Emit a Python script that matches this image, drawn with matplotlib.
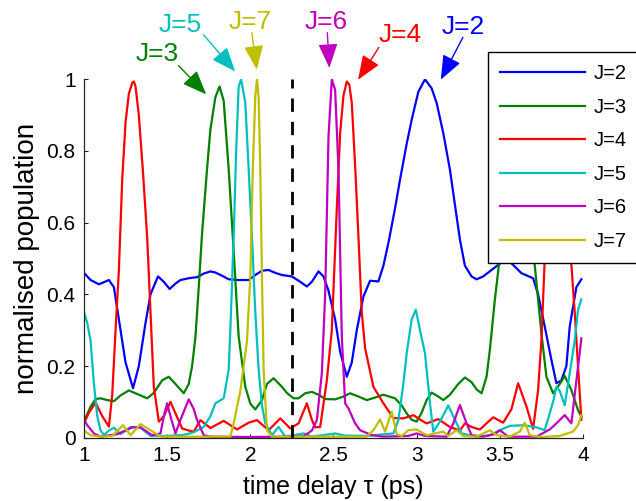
import matplotlib
matplotlib.use("Agg")
import matplotlib.pyplot as plt

plt.rcParams['font.family'] = ['Liberation Sans', 'DejaVu Sans']

labels = ["J=2", "J=3", "J=4", "J=5", "J=6", "J=7"]
colors = ["b", "g", "r", "c", "m", "y"]

j2_t = [1.00, 1.04, 1.09, 1.15, 1.18, 1.21, 1.25, 1.295, 1.33, 1.37, 1.40, 1.445, 1.48, 1.515, 1.55, 1.58, 1.63, 1.68, 1.72, 1.76, 1.79, 1.83, 1.87, 1.93, 1.99, 2.03, 2.07, 2.11, 2.15, 2.19, 2.25, 2.30, 2.34, 2.37, 2.41, 2.44, 2.47, 2.51, 2.54, 2.58, 2.61, 2.64, 2.68, 2.72, 2.77, 2.80, 2.83, 2.87, 2.90, 2.94, 2.97, 3.01, 3.05, 3.09, 3.12, 3.16, 3.20, 3.23, 3.26, 3.29, 3.33, 3.36, 3.40, 3.45, 3.49, 3.54, 3.58, 3.63, 3.70, 3.73, 3.77, 3.81, 3.84, 3.87, 3.90, 3.92, 3.96, 3.99]
j2_p = [0.46, 0.44, 0.428, 0.44, 0.42, 0.33, 0.21, 0.138, 0.2, 0.32, 0.40, 0.45, 0.435, 0.415, 0.43, 0.44, 0.445, 0.448, 0.458, 0.464, 0.461, 0.452, 0.442, 0.44, 0.44, 0.454, 0.466, 0.468, 0.46, 0.454, 0.45, 0.435, 0.422, 0.435, 0.464, 0.45, 0.41, 0.33, 0.24, 0.17, 0.21, 0.30, 0.394, 0.438, 0.436, 0.48, 0.543, 0.64, 0.72, 0.82, 0.887, 0.965, 1.0, 0.975, 0.934, 0.85, 0.748, 0.65, 0.553, 0.48, 0.45, 0.442, 0.45, 0.468, 0.482, 0.50, 0.482, 0.459, 0.445, 0.40, 0.31, 0.217, 0.152, 0.16, 0.20, 0.31, 0.42, 0.442]

j3_t = [1.00, 1.04, 1.07, 1.10, 1.14, 1.18, 1.22, 1.27, 1.32, 1.38, 1.42, 1.47, 1.51, 1.55, 1.60, 1.63, 1.65, 1.67, 1.69, 1.71, 1.74, 1.76, 1.79, 1.815, 1.84, 1.87, 1.90, 1.93, 1.97, 2.00, 2.03, 2.07, 2.10, 2.14, 2.19, 2.22, 2.26, 2.29, 2.33, 2.37, 2.41, 2.45, 2.51, 2.56, 2.60, 2.65, 2.70, 2.75, 2.80, 2.87, 2.91, 2.94, 2.97, 3.00, 3.03, 3.06, 3.09, 3.13, 3.16, 3.20, 3.25, 3.29, 3.33, 3.36, 3.39, 3.42, 3.44, 3.47, 3.50, 3.53, 3.56, 3.60, 3.64, 3.68, 3.71, 3.75, 3.78, 3.82, 3.86, 3.89, 3.93, 3.97, 3.99]
j3_p = [0.045, 0.087, 0.108, 0.11, 0.105, 0.102, 0.118, 0.132, 0.122, 0.11, 0.125, 0.16, 0.17, 0.15, 0.124, 0.15, 0.2, 0.28, 0.42, 0.57, 0.75, 0.86, 0.95, 0.98, 0.94, 0.75, 0.52, 0.282, 0.142, 0.095, 0.079, 0.105, 0.15, 0.166, 0.142, 0.125, 0.11, 0.11, 0.124, 0.128, 0.12, 0.108, 0.107, 0.115, 0.124, 0.115, 0.105, 0.112, 0.12, 0.11, 0.09, 0.068, 0.05, 0.045, 0.07, 0.105, 0.126, 0.115, 0.105, 0.12, 0.15, 0.168, 0.155, 0.135, 0.124, 0.17, 0.245, 0.385, 0.505, 0.68, 0.85, 0.95, 0.85, 0.62, 0.48, 0.291, 0.17, 0.124, 0.15, 0.172, 0.133, 0.077, 0.059]

j4_t = [1.00, 1.03, 1.07, 1.11, 1.15, 1.17, 1.19, 1.21, 1.23, 1.25, 1.27, 1.29, 1.30, 1.31, 1.33, 1.355, 1.38, 1.40, 1.42, 1.45, 1.48, 1.52, 1.55, 1.59, 1.63, 1.66, 1.70, 1.76, 1.84, 1.92, 1.99, 2.04, 2.11, 2.18, 2.24, 2.29, 2.34, 2.37, 2.39, 2.42, 2.46, 2.49, 2.52, 2.54, 2.56, 2.58, 2.595, 2.61, 2.63, 2.65, 2.67, 2.69, 2.74, 2.80, 2.86, 2.92, 2.98, 3.04, 3.06, 3.13, 3.20, 3.26, 3.29, 3.33, 3.38, 3.46, 3.52, 3.57, 3.61, 3.66, 3.70, 3.73, 3.75, 3.77, 3.80, 3.85, 3.89, 3.92, 3.95, 3.97, 3.99]
j4_p = [0.04, 0.07, 0.098, 0.06, 0.031, 0.12, 0.3, 0.468, 0.72, 0.88, 0.96, 0.99, 0.994, 0.98, 0.9, 0.74, 0.56, 0.35, 0.142, 0.045, 0.06, 0.1, 0.068, 0.026, 0.02, 0.017, 0.049, 0.027, 0.047, 0.023, 0.042, 0.049, 0.021, 0.054, 0.026, 0.04, 0.096, 0.05, 0.029, 0.03, 0.16, 0.3, 0.64, 0.85, 0.955, 0.994, 0.985, 0.934, 0.76, 0.561, 0.35, 0.25, 0.142, 0.096, 0.055, 0.054, 0.063, 0.045, 0.04, 0.052, 0.03, 0.02, 0.04, 0.03, 0.023, 0.057, 0.042, 0.08, 0.152, 0.087, 0.025, 0.133, 0.273, 0.5, 0.85, 0.99, 0.85, 0.55, 0.35, 0.2, 0.05]

j5_t = [1.00, 1.02, 1.04, 1.06, 1.08, 1.10, 1.12, 1.15, 1.18, 1.22, 1.25, 1.28, 1.34, 1.40, 1.50, 1.60, 1.66, 1.72, 1.76, 1.79, 1.84, 1.87, 1.88, 1.90, 1.915, 1.93, 1.945, 1.97, 1.99, 2.01, 2.03, 2.05, 2.07, 2.09, 2.13, 2.17, 2.21, 2.32, 2.37, 2.51, 2.57, 2.70, 2.81, 2.86, 2.89, 2.92, 2.94, 2.97, 2.995, 3.02, 3.05, 3.08, 3.10, 3.14, 3.19, 3.23, 3.27, 3.36, 3.44, 3.50, 3.56, 3.64, 3.72, 3.77, 3.82, 3.84, 3.86, 3.89, 3.92, 3.95, 3.97, 3.99]
j5_p = [0.35, 0.32, 0.27, 0.15, 0.06, 0.02, 0.008, 0.02, 0.028, 0.01, 0.02, 0.03, 0.028, 0.005, 0.005, 0.008, 0.015, 0.03, 0.06, 0.096, 0.11, 0.19, 0.3, 0.561, 0.8, 0.98, 1.0, 0.934, 0.75, 0.561, 0.35, 0.19, 0.09, 0.04, 0.007, 0.03, 0.003, 0.012, 0.003, 0.012, 0.006, 0.005, 0.01, 0.012, 0.049, 0.15, 0.236, 0.33, 0.357, 0.3, 0.236, 0.096, 0.017, 0.045, 0.09, 0.05, 0.012, 0.003, 0.007, 0.021, 0.033, 0.035, 0.029, 0.021, 0.1, 0.142, 0.13, 0.091, 0.18, 0.27, 0.357, 0.386]

j6_t = [1.00, 1.02, 1.06, 1.10, 1.20, 1.25, 1.29, 1.34, 1.41, 1.46, 1.48, 1.50, 1.52, 1.55, 1.58, 1.63, 1.66, 1.68, 1.72, 1.76, 2.00, 2.20, 2.32, 2.37, 2.40, 2.43, 2.45, 2.47, 2.49, 2.51, 2.53, 2.55, 2.57, 2.59, 2.63, 2.66, 2.73, 2.80, 2.95, 3.00, 3.05, 3.18, 3.22, 3.26, 3.30, 3.33, 3.40, 3.47, 3.50, 3.55, 3.72, 3.80, 3.84, 3.89, 3.93, 3.97, 3.99]
j6_p = [0.05, 0.035, 0.012, 0.003, 0.01, 0.02, 0.029, 0.029, 0.007, 0.012, 0.06, 0.096, 0.06, 0.012, 0.05, 0.107, 0.08, 0.049, 0.007, 0.003, 0.002, 0.003, 0.004, 0.02, 0.049, 0.18, 0.4, 0.84, 1.0, 0.97, 0.748, 0.282, 0.096, 0.082, 0.04, 0.021, 0.007, 0.003, 0.005, 0.012, 0.005, 0.003, 0.04, 0.091, 0.04, 0.007, 0.003, 0.01, 0.021, 0.003, 0.003, 0.023, 0.04, 0.063, 0.04, 0.198, 0.277]

j7_t = [1.00, 1.04, 1.10, 1.17, 1.235, 1.28, 1.34, 1.40, 1.46, 1.88, 1.90, 1.94, 1.98, 2.00, 2.015, 2.03, 2.04, 2.05, 2.06, 2.07, 2.08, 2.10, 2.13, 2.70, 2.74, 2.78, 2.81, 2.85, 2.88, 2.91, 2.95, 3.00, 3.06, 3.16, 3.19, 3.24, 3.28, 3.36, 3.44, 3.48, 3.56, 3.62, 3.65, 3.68, 3.75, 3.86, 3.94, 3.97, 3.99]
j7_p = [0.02, 0.007, 0.003, 0.005, 0.035, 0.007, 0.038, 0.021, 0.003, 0.003, 0.04, 0.13, 0.27, 0.45, 0.75, 0.953, 1.0, 0.95, 0.75, 0.45, 0.19, 0.021, 0.003, 0.003, 0.021, 0.051, 0.017, 0.073, 0.01, 0.005, 0.021, 0.023, 0.007, 0.017, 0.005, 0.021, 0.005, 0.003, 0.021, 0.007, 0.003, 0.017, 0.042, 0.007, 0.002, 0.005, 0.017, 0.035, 0.063]

series_t = [j2_t, j3_t, j4_t, j5_t, j6_t, j7_t]
series_p = [j2_p, j3_p, j4_p, j5_p, j6_p, j7_p]

tau_marker = 2.25
xticks = [1, 1.5, 2, 2.5, 3, 3.5, 4]
xticklabels = ["1", "1.5", "2", "2.5", "3", "3.5", "4"]
yticks = [0, 0.2, 0.4, 0.6, 0.8, 1]
yticklabels = ["0", "0.2", "0.4", "0.6", "0.8", "1"]

# annotation (label text position, arrow tail, arrow tip) in data coords
ann_labels = ["J=3", "J=5", "J=7", "J=6", "J=4", "J=2"]
ann_colors = ["g", "c", "y", "m", "r", "b"]
ann_text = [(1.439, 1.072), (1.579, 1.152), (1.999, 1.159), (2.459, 1.159), (2.903, 1.124), (3.278, 1.147)]
ann_tail = [(1.569, 1.038), (1.719, 1.124), (2.009, 1.13), (2.463, 1.13), (2.773, 1.089), (3.278, 1.117)]
ann_tip = [(1.735, 0.958), (1.909, 1.022), (2.039, 1.027), (2.475, 1.032), (2.648, 0.999), (3.145, 0.999)]

fig = plt.figure(figsize=(6.36, 5.01), dpi=100)
ax = fig.add_axes([0.132, 0.1263, 0.7847, 0.7154])

for t, p, c, lab in zip(series_t, series_p, colors, labels):
    ax.plot(t, p, color=c, lw=1.6, label=lab)

ax.plot([tau_marker, tau_marker], [0, 1], color='k', lw=2.0, ls=(0, (4.8, 3.6)))

ax.set_xlim(1, 4)
ax.set_ylim(0, 1)
ax.set_xticks(xticks)
ax.set_xticklabels(xticklabels)
ax.set_yticks(yticks)
ax.set_yticklabels(yticklabels)
ax.spines['top'].set_visible(False)
ax.spines['right'].set_visible(False)
for s in ['left', 'bottom']:
    ax.spines[s].set_color('#262626')
    ax.spines[s].set_linewidth(0.9)
ax.tick_params(direction='in', length=3, width=0.8, labelsize=15, pad=6, colors='#262626', labelcolor='black')
ax.set_xlabel("time delay τ (ps)", fontsize=18, labelpad=7)
ax.set_ylabel("normalised population", fontsize=20, labelpad=5)

for lab, c, tp, tl, tip in zip(ann_labels, ann_colors, ann_text, ann_tail, ann_tip):
    ax.annotate('', xy=tip, xytext=tl, xycoords='data', textcoords='data',
                annotation_clip=False,
                arrowprops=dict(arrowstyle='-|>,head_length=1.5,head_width=0.6', color=c,
                                lw=1.0, shrinkA=0, shrinkB=0, mutation_scale=10))
    ax.text(tp[0], tp[1], lab, color=c, fontsize=19, ha='center', va='center', clip_on=False)

leg = ax.legend(loc='upper left', bbox_to_anchor=(488 / 636, 0, 170 / 636, 1 - 52 / 501),
                bbox_transform=fig.transFigure, mode='expand',
                fontsize=14.5, handlelength=4.2, handletextpad=0.45, labelspacing=0.72,
                borderpad=0.62, borderaxespad=0, fancybox=False, framealpha=1, edgecolor='black')
leg.get_frame().set_linewidth(1.0)

fig.savefig("out.png", dpi=100)
